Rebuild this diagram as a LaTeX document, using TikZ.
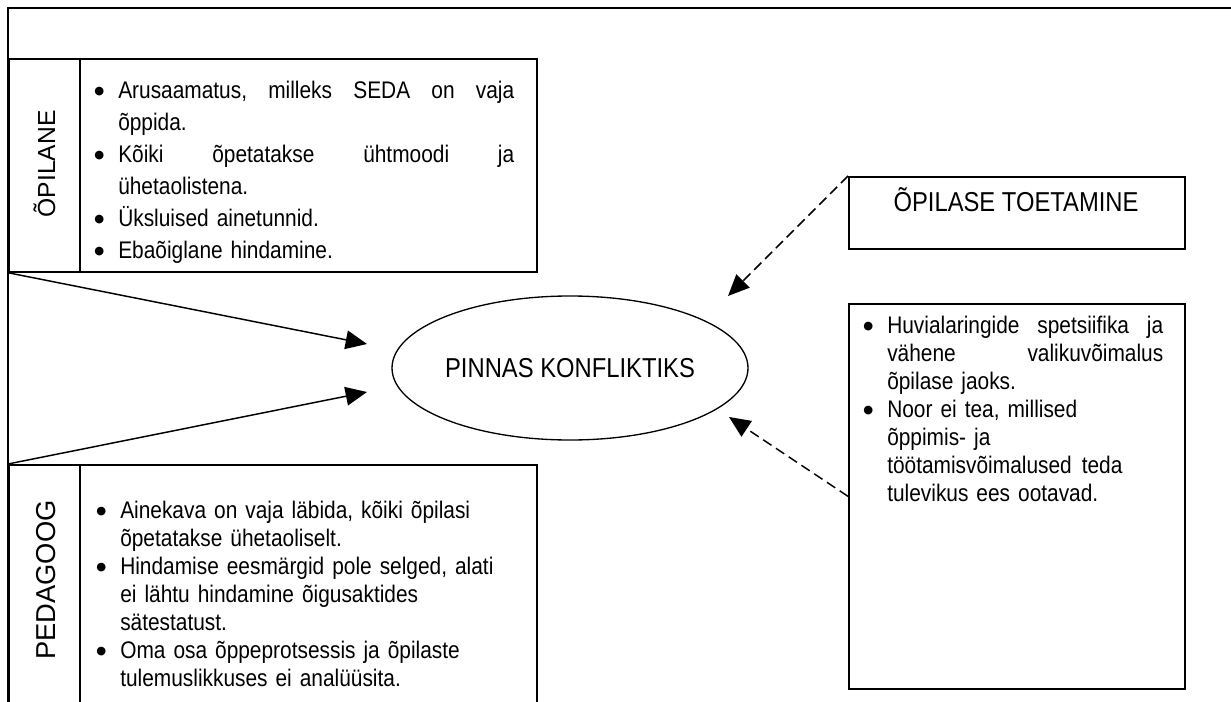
\documentclass[tikz,border=0pt]{standalone}
\usepackage{fontspec}
\setmainfont{Liberation Sans}[FakeStretch=0.87]
\newfontfamily\labelfont{Liberation Sans}
\newfontfamily\symfont{DejaVu Sans}
\usetikzlibrary{shapes.geometric,arrows.meta}
\newdimen\px \px=0.75pt
\newcommand\bul{\makebox[24\px][l]{\raisebox{4\px}{\symfont\fontsize{8.5}{9}\selectfont ●}}}
\newcommand\ind{\hspace*{24\px}}
\newcommand\jl[2]{\makebox[#1\px][l]{#2}}
\begin{document}
\begin{tikzpicture}[x=0.75pt,y=-0.75pt,
  frame/.style={line width=1.3pt},
  box/.style={draw, line width=1.3pt, inner sep=0, anchor=north west},
  txt/.style={anchor=base west, inner sep=0, align=left, font=\fontsize{18}{21}\selectfont},
  head/.style={inner sep=0, font=\fontsize{20.5}{22}\selectfont},
  lab/.style={inner sep=0, rotate=90, anchor=base},
  arr/.style={-{Triangle[length=16pt,width=14pt]}, line width=1.1pt},
  darr/.style={arr, dash pattern=on 7.5pt off 4pt}]
\useasboundingbox (0,0) rectangle (1231,702);
\clip (0,0) rectangle (1231,702);
% outer frame
\coordinate (tl) at (8,8);
\coordinate (tr) at (1240,8);
\coordinate (bl) at (8,720);
\draw[frame] (tr) -- (tl) -- (bl);
% OPILANE box
\node[box, minimum width=528\px, minimum height=213\px] (opbox) at (8,58) {};
\draw[frame] (80,58) -- (80,271);
\node[lab, font=\labelfont\fontsize{18.5}{20}\selectfont] (oplab) at (55,164) {ÕPILANE};
\node[txt, font=\fontsize{18}{24}\selectfont, text width=425\px] (optxt) at (94,99) {%
\bul\jl{396}{Arusaamatus,\hfill milleks\hfill SEDA\hfill on\hfill vaja}\\
\ind õppida.\\
\bul\jl{396}{Kõiki\hfill õpetatakse\hfill ühtmoodi\hfill ja}\\
\ind ühetaolistena.\\
\bul Üksluised ainetunnid.\\
\bul Ebaõiglane hindamine.};
% PEDAGOOG box
\node[box, minimum width=528\px, minimum height=280\px] (pedbox) at (8,464) {};
\draw[frame] (80,464) -- (80,744);
\node[lab, font=\labelfont\fontsize{20.5}{22}\selectfont] (pedlab) at (55,580) {PEDAGOOG};
\node[txt, text width=440\px] (pedtxt) at (96,518) {%
\bul Ainekava on vaja läbida, kõiki õpilasi\\
\ind õpetatakse ühetaoliselt.\\
\bul Hindamise eesmärgid pole selged, alati\\
\ind ei lähtu hindamine õigusaktides\\
\ind sätestatust.\\
\bul Oma osa õppeprotsessis ja õpilaste\\
\ind tulemuslikkuses ei analüüsita.};
% central ellipse
\node[draw, ellipse, line width=1pt, minimum width=356\px, minimum height=144\px, inner sep=0, font=\fontsize{20.5}{22}\selectfont] (conf) at (570,368) {PINNAS KONFLIKTIKS};
% OPILASE TOETAMINE box
\node[box, minimum width=336\px, minimum height=72\px] (toetbox) at (848,176) {};
\node[head, anchor=base] (toettxt) at (1016,212) {ÕPILASE TOETAMINE};
% right box
\node[box, minimum width=336\px, minimum height=385\px] (rbox) at (848,303) {};
\node[txt, text width=305\px] (rtxt) at (863,333) {%
\bul\jl{276}{Huvialaringide\hfill spetsiifika\hfill ja}\\
\ind\jl{276}{vähene\hfill valikuvõimalus}\\
\ind õpilase jaoks.\\
\bul Noor ei tea, millised\\
\ind õppimis- ja\\
\ind töötamisvõimalused\hspace{10\px}teda\\
\ind tulevikus ees ootavad.};
% connectors
\coordinate (a1e) at (367,344);
\coordinate (a2e) at (367,392);
\draw[arr] (opbox.south west) -- (a1e);
\draw[arr] (pedbox.north west) -- (a2e);
\coordinate (d1e) at (728,296);
\coordinate (d2e) at (729,417);
\draw[darr] (toetbox.north west) -- (d1e);
\draw[darr] (rbox.west) -- (d2e);
\end{tikzpicture}
\end{document}
